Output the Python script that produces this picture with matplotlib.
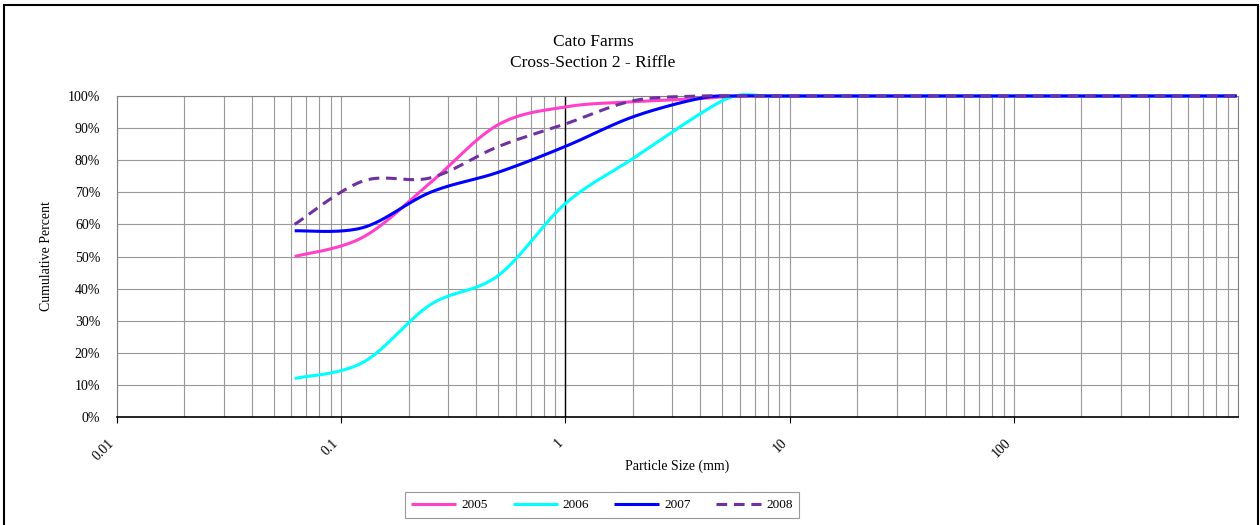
# grain size distribution plot for Cato Farms cross-section 2 (riffle)
import matplotlib.pyplot as plt
from matplotlib.patches import Rectangle
from matplotlib.ticker import LogLocator, NullFormatter, FixedLocator, PercentFormatter
import numpy as np

plt.rcParams['font.family'] = ['Liberation Serif', 'DejaVu Serif']

# sieve sizes (mm)
sizes = [0.062, 0.125, 0.25, 0.5, 1, 2, 4, 5.7, 8, 11.3, 16, 22.6, 32, 45,
         64, 90, 128, 180, 256, 362, 512, 1024, 2048]

# cumulative percent finer for each survey year
pct_2005 = [50, 56, 73, 91, 96.6, 98.2, 99.2, 100, 100, 100, 100, 100, 100, 100,
            100, 100, 100, 100, 100, 100, 100, 100, 100]
pct_2006 = [12, 17, 35, 44, 66.5, 80.5, 94.5, 100, 100, 100, 100, 100, 100, 100,
            100, 100, 100, 100, 100, 100, 100, 100, 100]
pct_2007 = [58, 59, 70, 76.2, 84.3, 93.5, 99.3, 100, 100, 100, 100, 100, 100, 100,
            100, 100, 100, 100, 100, 100, 100, 100, 100]
pct_2008 = [60, 73.5, 74.5, 84.2, 91.3, 98.5, 100, 100, 100, 100, 100, 100, 100, 100,
            100, 100, 100, 100, 100, 100, 100, 100, 100]

years = ['2005', '2006', '2007', '2008']
colors = ['#FF40C8', '#00FFFF', '#0000FF', '#7030A0']
styles = ['-', '-', '-', (0, (3.5, 2.2))]


# excel style smoothed line (bezier through the points, in log-x space)
def smooth(xs, ys, n=40):
    p = np.column_stack([np.log10(xs), ys]).astype(float)
    p = np.vstack([p[0], p, p[-1]])
    out = []
    t = np.linspace(0, 1, n)[:, None]
    for i in range(1, len(p) - 2):
        p0, p1, p2, p3 = p[i - 1], p[i], p[i + 1], p[i + 2]
        c1 = p1 + (p2 - p0) / 6
        c2 = p2 - (p3 - p1) / 6
        seg = ((1 - t) ** 3) * p1 + 3 * ((1 - t) ** 2) * t * c1 + 3 * (1 - t) * t ** 2 * c2 + t ** 3 * p2
        out.append(seg)
    out = np.vstack(out)
    return 10 ** out[:, 0], out[:, 1]


fig = plt.figure(figsize=(12.6, 5.25), dpi=100)
ax = fig.add_axes([117 / 1260, 1 - 417 / 525, (1238 - 117) / 1260, (417 - 96) / 525])

ax.set_xscale('log')
ax.set_xlim(0.01, 1000)
ax.set_ylim(0, 100)

# grid
ax.xaxis.set_major_locator(FixedLocator([0.01, 0.1, 1, 10, 100]))
ax.xaxis.set_minor_locator(LogLocator(base=10, subs=np.arange(1, 10)))
ax.xaxis.set_minor_formatter(NullFormatter())
ax.set_yticks(np.arange(0, 101, 10))
ax.grid(True, which='both', axis='x', color='#999999', lw=0.8)
ax.grid(True, which='major', axis='y', color='#999999', lw=0.8)
ax.set_axisbelow(True)

ax.yaxis.set_major_formatter(PercentFormatter(decimals=0))
ax.set_xticklabels(['0.01', '0.1', '1', '10', '100'], rotation=45, ha='right', va='top')
ax.tick_params(axis='x', which='major', length=4, width=0.8, color='black', labelsize=10, pad=10)
ax.tick_params(axis='x', which='minor', length=0)
ax.tick_params(axis='y', length=0, labelsize=10, pad=12)

for side in ['left', 'top', 'right']:
    ax.spines[side].set_color('#808080')
ax.spines['bottom'].set_color('black')
ax.spines['bottom'].set_linewidth(1.2)
ax.axvline(1, color='black', lw=1.0, zorder=1.5)

for vals, year, col, ls in zip([pct_2005, pct_2006, pct_2007, pct_2008], years, colors, styles):
    sx, sy = smooth(sizes, vals)
    keep = sx <= 1000
    ax.plot(sx[keep], sy[keep], color=col, lw=2.2, linestyle=ls, label=year,
            clip_on=False, solid_capstyle='butt', zorder=3)

ax.set_xlabel('Particle Size (mm)', fontsize=10, labelpad=-2.5)
ax.set_ylabel('Cumulative Percent', fontsize=10, labelpad=11)

fig.text(593 / 1260, 1 - 42 / 525, 'Cato Farms', ha='center', va='center', fontsize=12.5)
fig.text(593 / 1260, 1 - 63 / 525, 'Cross-Section 2 - Riffle', ha='center', va='center', fontsize=12.5)

leg = fig.legend(loc='center', bbox_to_anchor=(602 / 1260, 1 - 505 / 525), ncol=4,
                 fontsize=9.5, frameon=True, fancybox=False, edgecolor='#808080',
                 handlelength=3.4, columnspacing=1.9, handletextpad=0.4, borderpad=0.5)
leg.get_frame().set_linewidth(0.8)

# chart area border
fig.patches.append(Rectangle((4 / 1260, -0.02), 1254 / 1260, 1 - 5 / 525 + 0.02,
                             transform=fig.transFigure, fill=False, edgecolor='black', lw=1.5))

fig.savefig('out.png', dpi=100)
